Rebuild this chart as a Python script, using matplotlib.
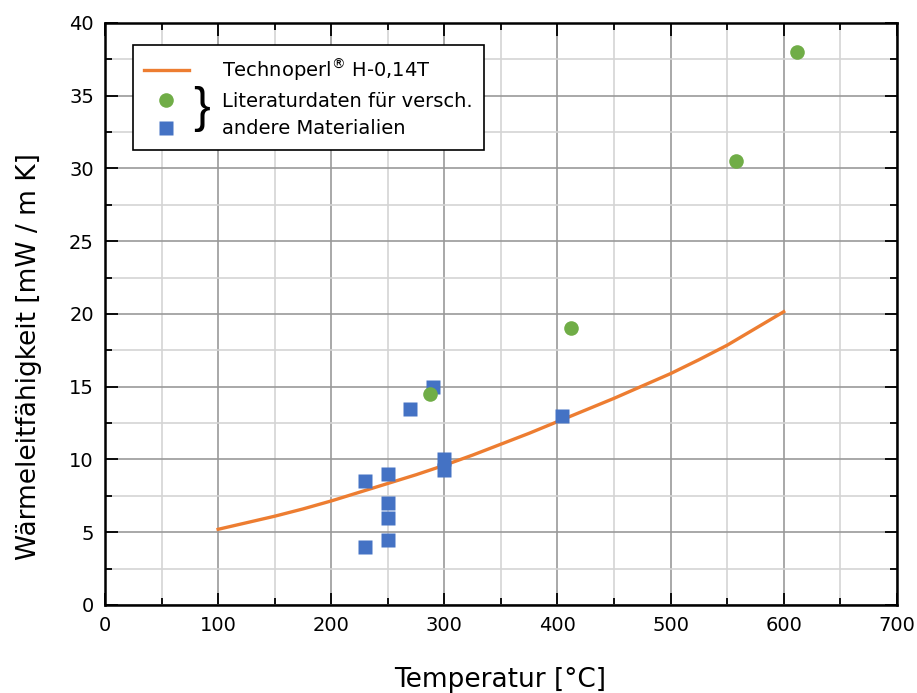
import matplotlib
matplotlib.use('Agg')
import matplotlib.pyplot as plt
from matplotlib.ticker import MultipleLocator
from matplotlib.lines import Line2D

curve_t = [100, 125, 150, 175, 200, 225, 250, 275, 300, 325, 350,
           375, 400, 425, 450, 475, 500, 525, 550, 575, 600]
curve_k = [5.2, 5.65, 6.1, 6.6, 7.15, 7.75, 8.35, 8.95, 9.6, 10.3, 11.05,
           11.8, 12.6, 13.4, 14.2, 15.05, 15.9, 16.85, 17.85, 19.0, 20.15]

# literature data
circ_t = [287, 412, 558, 612]
circ_k = [14.5, 19.0, 30.5, 38.0]
sq_t = [230, 230, 250, 250, 250, 250, 270, 290, 300, 300, 404]
sq_k = [8.5, 4.0, 9.0, 7.0, 6.0, 4.5, 13.5, 15.0, 10.0, 9.3, 13.0]

orange = '#ED7D31'
green = '#70AD47'
blue = '#4472C4'

fig = plt.figure(figsize=(9.17, 6.93), dpi=100)
ax = fig.add_axes([0.1145, 0.127, 0.8635, 0.840])

ax.plot(curve_t, curve_k, color=orange, lw=2.4, zorder=3)
ax.plot(sq_t, sq_k, 's', color=blue, ms=9.5, mec='none', zorder=4)
ax.plot(circ_t, circ_k, 'o', color=green, ms=10.5, mec='none', zorder=5)

ax.set_xlim(0, 700)
ax.set_ylim(0, 40)
ax.xaxis.set_major_locator(MultipleLocator(100))
ax.xaxis.set_minor_locator(MultipleLocator(50))
ax.yaxis.set_major_locator(MultipleLocator(5))
ax.yaxis.set_minor_locator(MultipleLocator(2.5))
ax.grid(which='major', color='#999999', lw=1.2)
ax.grid(which='minor', color='#d4d4d4', lw=1.2)
ax.set_axisbelow(True)
ax.tick_params(which='both', direction='in', top=True, right=True, width=1.3)
ax.tick_params(which='major', length=9, labelsize=14, pad=8)
ax.tick_params(which='minor', length=5)
for s in ax.spines.values():
    s.set_linewidth(1.8)

ax.set_xlabel('Temperatur [°C]', fontsize=19)
ax.set_ylabel('Wärmeleitfähigkeit [mW / m K]', fontsize=19)
ax.xaxis.set_label_coords(0.499, -0.106)
ax.yaxis.set_label_coords(-0.08, 0.426)

handles = [Line2D([], [], color=orange, lw=2.4),
           Line2D([], [], marker='o', ls='none', color=green, ms=10.5, mec='none'),
           Line2D([], [], marker='s', ls='none', color=blue, ms=9.5, mec='none')]
labels = ['Technoperl$^{®}$ H-0,14T', 'Literaturdaten für versch.', 'andere Materialien']
leg = ax.legend(handles, labels, loc='upper left', bbox_to_anchor=(0.035, 0.962),
                fontsize=14, frameon=True, fancybox=False, edgecolor='black',
                framealpha=1, borderpad=0.6, handlelength=2.27, handletextpad=1.7,
                labelspacing=0.45, borderaxespad=0)
leg.get_frame().set_linewidth(1.2)
fig.text(0.22, 0.842, '}', fontsize=36, family='Liberation Sans', ha='center', va='center')

fig.savefig('out.png', dpi=100)
